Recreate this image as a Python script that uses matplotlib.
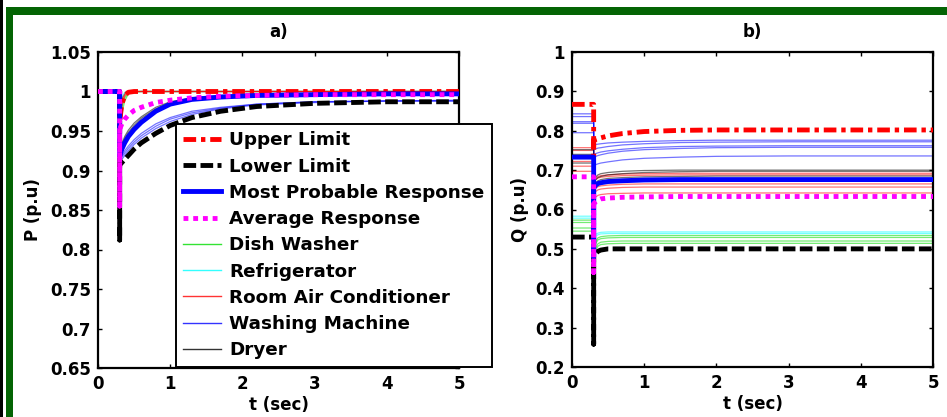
import matplotlib
matplotlib.use('Agg')
import matplotlib.pyplot as plt
from matplotlib.patches import Rectangle

# time grids (the three 0.3 points are: before the fault, bottom of dip, just after)
t_p = [0, 0.3, 0.3, 0.3, 0.33, 0.37, 0.42, 0.5, 0.6, 0.8, 1.0, 1.3, 1.7, 2.2, 3.0, 4.0, 5.0]
t_q = [0, 0.3, 0.3, 0.3, 0.33, 0.36, 0.4, 0.5, 0.7, 1.0, 1.5, 2.0, 3.0, 5.0]

# --- active power P (p.u) ---
p_upper = [1.0, 1.0, 0.962, 0.962, 0.984, 0.995, 0.999, 1.0, 1.0, 1.0, 1.0, 1.0, 1.0, 1.0, 1.0, 1.0, 1.0]
p_lower = [1.0, 1.0, 0.812, 0.907, 0.910, 0.914, 0.919, 0.927, 0.935, 0.947, 0.957, 0.967, 0.975, 0.981, 0.985, 0.987, 0.987]
p_likely = [1.0, 1.0, 0.918, 0.918, 0.927, 0.935, 0.943, 0.952, 0.961, 0.975, 0.984, 0.990, 0.993, 0.995, 0.996, 0.997, 0.997]
p_mean = [1.0, 1.0, 0.855, 0.952, 0.959, 0.965, 0.970, 0.976, 0.980, 0.986, 0.989, 0.992, 0.994, 0.995, 0.996, 0.996, 0.996]

p_dish = [
    [1.0, 1.0, 0.958, 0.958, 0.972, 0.988, 0.997, 1.0, 1.0, 1.0, 1.0, 1.0, 1.0, 1.0, 1.0, 1.0, 1.0],
    [1.0, 1.0, 0.965, 0.965, 0.980, 0.992, 0.998, 0.999, 1.0, 1.0, 1.0, 1.0, 1.0, 1.0, 1.0, 1.0, 1.0],
]
p_fridge = [
    [1.0, 1.0, 0.970, 0.970, 0.990, 0.998, 1.0, 1.0, 1.0, 1.0, 1.0, 1.0, 1.0, 1.0, 1.0, 1.0, 1.0],
    [1.0, 1.0, 0.975, 0.975, 0.992, 0.999, 1.0, 1.0, 1.0, 1.0, 1.0, 1.0, 1.0, 1.0, 1.0, 1.0, 1.0],
]
p_aircon = [
    [1.0, 1.0, 0.966, 0.966, 0.982, 0.994, 0.999, 1.0, 1.0, 1.0, 1.0, 1.0, 1.0, 1.0, 1.0, 1.0, 1.0],
    [1.0, 1.0, 0.972, 0.972, 0.987, 0.996, 0.999, 1.0, 1.0, 1.0, 1.0, 1.0, 1.0, 1.0, 1.0, 1.0, 1.0],
    [1.0, 1.0, 0.978, 0.978, 0.990, 0.997, 1.0, 1.0, 1.0, 1.0, 1.0, 1.0, 1.0, 1.0, 1.0, 1.0, 1.0],
]
p_washer = [
    [1.0, 1.0, 0.910, 0.910, 0.914, 0.919, 0.925, 0.933, 0.941, 0.953, 0.962, 0.971, 0.978, 0.983, 0.986, 0.988, 0.988],
    [1.0, 1.0, 0.912, 0.912, 0.917, 0.922, 0.928, 0.936, 0.944, 0.956, 0.965, 0.973, 0.979, 0.984, 0.987, 0.988, 0.988],
    [1.0, 1.0, 0.914, 0.914, 0.919, 0.925, 0.931, 0.939, 0.947, 0.959, 0.967, 0.975, 0.980, 0.984, 0.987, 0.988, 0.989],
    [1.0, 1.0, 0.920, 0.920, 0.929, 0.937, 0.945, 0.954, 0.963, 0.976, 0.985, 0.990, 0.993, 0.995, 0.996, 0.997, 0.997],
]
p_dryer = [
    [1.0, 1.0, 0.922, 0.922, 0.931, 0.940, 0.948, 0.957, 0.966, 0.978, 0.986, 0.991, 0.994, 0.996, 0.997, 0.997, 0.997],
    [1.0, 1.0, 0.925, 0.925, 0.934, 0.943, 0.951, 0.960, 0.968, 0.980, 0.987, 0.992, 0.995, 0.996, 0.997, 0.998, 0.998],
]

# --- reactive power Q (p.u) ---
q_upper = [0.867, 0.867, 0.735, 0.776, 0.778, 0.780, 0.782, 0.787, 0.793, 0.798, 0.801, 0.802, 0.802, 0.802]
q_lower = [0.530, 0.530, 0.258, 0.480, 0.488, 0.494, 0.497, 0.500, 0.500, 0.500, 0.500, 0.500, 0.500, 0.500]
q_likely = [0.733, 0.733, 0.480, 0.655, 0.662, 0.666, 0.668, 0.671, 0.673, 0.675, 0.676, 0.676, 0.676, 0.676]
q_mean = [0.683, 0.683, 0.440, 0.615, 0.620, 0.624, 0.627, 0.629, 0.631, 0.632, 0.633, 0.633, 0.633, 0.633]

q_washer = [
    [0.843, 0.843, 0.764, 0.764, 0.765, 0.766, 0.767, 0.769, 0.771, 0.773, 0.775, 0.776, 0.776, 0.776],
    [0.836, 0.836, 0.752, 0.752, 0.754, 0.756, 0.757, 0.760, 0.764, 0.767, 0.770, 0.771, 0.772, 0.772],
    [0.823, 0.823, 0.740, 0.740, 0.742, 0.744, 0.746, 0.749, 0.753, 0.757, 0.760, 0.761, 0.762, 0.762],
    [0.819, 0.819, 0.733, 0.733, 0.735, 0.737, 0.739, 0.743, 0.748, 0.752, 0.755, 0.757, 0.758, 0.758],
    [0.795, 0.795, 0.712, 0.712, 0.714, 0.716, 0.718, 0.721, 0.726, 0.730, 0.733, 0.735, 0.736, 0.736],
]
q_aircon = [
    [0.757, 0.757, 0.676, 0.676, 0.680, 0.684, 0.686, 0.688, 0.690, 0.691, 0.692, 0.692, 0.692, 0.692],
    [0.750, 0.750, 0.672, 0.672, 0.676, 0.680, 0.682, 0.684, 0.686, 0.687, 0.688, 0.688, 0.688, 0.688],
    [0.722, 0.722, 0.650, 0.650, 0.654, 0.658, 0.660, 0.662, 0.664, 0.665, 0.665, 0.665, 0.665, 0.665],
    [0.710, 0.710, 0.642, 0.642, 0.646, 0.650, 0.652, 0.654, 0.656, 0.657, 0.657, 0.657, 0.657, 0.657],
    [0.697, 0.697, 0.628, 0.628, 0.632, 0.636, 0.638, 0.640, 0.641, 0.642, 0.642, 0.642, 0.642, 0.642],
]
q_dryer = [
    [0.752, 0.752, 0.675, 0.675, 0.683, 0.688, 0.691, 0.694, 0.697, 0.699, 0.700, 0.700, 0.700, 0.700],
    [0.740, 0.740, 0.668, 0.668, 0.676, 0.681, 0.684, 0.688, 0.691, 0.694, 0.696, 0.697, 0.697, 0.697],
    [0.718, 0.718, 0.660, 0.660, 0.668, 0.673, 0.676, 0.679, 0.681, 0.683, 0.684, 0.685, 0.685, 0.685],
]
q_fridge = [
    [0.583, 0.583, 0.265, 0.530, 0.537, 0.540, 0.542, 0.543, 0.543, 0.543, 0.543, 0.543, 0.543, 0.543],
    [0.578, 0.578, 0.265, 0.525, 0.532, 0.536, 0.538, 0.539, 0.539, 0.539, 0.539, 0.539, 0.539, 0.539],
]
q_dish = [
    [0.573, 0.573, 0.505, 0.505, 0.520, 0.528, 0.531, 0.533, 0.534, 0.534, 0.534, 0.534, 0.534, 0.534],
    [0.567, 0.567, 0.500, 0.500, 0.514, 0.523, 0.526, 0.528, 0.529, 0.529, 0.529, 0.529, 0.529, 0.529],
    [0.553, 0.553, 0.490, 0.490, 0.504, 0.513, 0.517, 0.519, 0.520, 0.520, 0.520, 0.520, 0.520, 0.520],
    [0.545, 0.545, 0.485, 0.485, 0.498, 0.507, 0.511, 0.513, 0.514, 0.514, 0.514, 0.514, 0.514, 0.514],
]

labels = ['Upper Limit', 'Lower Limit', 'Most Probable Response', 'Average Response',
          'Dish Washer', 'Refrigerator', 'Room Air Conditioner', 'Washing Machine', 'Dryer']
p_yticks = [0.65, 0.7, 0.75, 0.8, 0.85, 0.9, 0.95, 1.0, 1.05]
p_yticklabels = ['0.65', '0.7', '0.75', '0.8', '0.85', '0.9', '0.95', '1', '1.05']
q_yticks = [0.2, 0.3, 0.4, 0.5, 0.6, 0.7, 0.8, 0.9, 1.0]
q_yticklabels = ['0.2', '0.3', '0.4', '0.5', '0.6', '0.7', '0.8', '0.9', '1']
xticks = [0, 1, 2, 3, 4, 5]

W, H = 947, 417
FS = 12


def draw_panel(ax, t, upper, lower, likely, mean, groups):
    thin = []
    for curves, col in groups:
        h = None
        for c in curves:
            h, = ax.plot(t, c, color=col, lw=0.9, alpha=0.55, zorder=2)
        thin.append(h)
    hu, = ax.plot(t, upper, color='red', lw=3.5, dashes=(2.6, 1.0, 0.9, 1.0), zorder=4)
    hl, = ax.plot(t, lower, color='black', lw=3.5, dashes=(2.6, 0.9), zorder=4)
    hm, = ax.plot(t, likely, color='blue', lw=3.5, zorder=4)
    ha, = ax.plot(t, mean, color='magenta', lw=3.5, dashes=(1.0, 1.0), zorder=5)
    ax.set_xlim(0, 5)
    ax.set_xticks(xticks)
    ax.set_xticklabels([str(x) for x in xticks])
    ax.tick_params(direction='in', length=3, width=1, top=True, right=True,
                   labelsize=FS, pad=5)
    for lab in ax.get_xticklabels() + ax.get_yticklabels():
        lab.set_fontweight('bold')
    for s in ax.spines.values():
        s.set_linewidth(1.6)
    ax.set_xlabel('t (sec)', fontsize=FS, fontweight='bold', labelpad=2)
    return [hu, hl, hm, ha] + thin


def main():
    fig = plt.figure(figsize=(W / 100.0, H / 100.0), dpi=100)
    fig.patch.set_facecolor('white')

    # frame bits around the picture
    fig.add_artist(Rectangle((0, 0), 3.3 / W, 1, transform=fig.transFigure,
                             color='black', lw=0))
    fig.add_artist(Rectangle((6 / W, 0), 7.3 / W, 1 - 7 / H, transform=fig.transFigure,
                             color='#046404', lw=0))
    fig.add_artist(Rectangle((6 / W, 1 - 15.3 / H), 1, 8.3 / H, transform=fig.transFigure,
                             color='#046404', lw=0))

    ax1 = fig.add_axes([98 / W, 1 - 368 / H, 361 / W, 316 / H])
    ax2 = fig.add_axes([572 / W, 1 - 367 / H, 361 / W, 315 / H])

    p_groups = [(p_dish, '#00dd00'), (p_fridge, 'cyan'), (p_aircon, 'red'),
                (p_washer, 'blue'), (p_dryer, 'black')]
    q_groups = [(q_dish, '#00dd00'), (q_fridge, 'cyan'), (q_aircon, 'red'),
                (q_washer, 'blue'), (q_dryer, 'black')]

    handles = draw_panel(ax1, t_p, p_upper, p_lower, p_likely, p_mean, p_groups)
    draw_panel(ax2, t_q, q_upper, q_lower, q_likely, q_mean, q_groups)

    ax1.set_ylim(0.65, 1.05)
    ax1.set_yticks(p_yticks)
    ax1.set_yticklabels(p_yticklabels, fontweight='bold')
    ax1.set_ylabel('P (p.u)', fontsize=FS, fontweight='bold', labelpad=6)
    ax1.set_title('a)', fontsize=FS, fontweight='bold', pad=11)

    ax2.set_ylim(0.2, 1.0)
    ax2.set_yticks(q_yticks)
    ax2.set_yticklabels(q_yticklabels, fontweight='bold')
    ax2.set_ylabel('Q (p.u)', fontsize=FS, fontweight='bold', labelpad=5)
    ax2.set_title('b)', fontsize=FS, fontweight='bold', pad=11)

    leg = ax1.legend(handles, labels, loc='upper left',
                     bbox_to_anchor=(176 / W, 1 - 124 / H), bbox_transform=fig.transFigure,
                     borderaxespad=0, fancybox=False, framealpha=1, edgecolor='black',
                     prop={'size': 13.2, 'weight': 'bold'}, handlelength=2.07,
                     handletextpad=0.44, labelspacing=0.45, borderpad=0.4)
    leg.get_frame().set_linewidth(1.4)
    leg.set_zorder(10)
    for h in leg.get_lines()[4:]:
        h.set_alpha(0.8)
        h.set_linewidth(1.0)

    plt.savefig('out.png', dpi=100)


if __name__ == '__main__':
    main()
